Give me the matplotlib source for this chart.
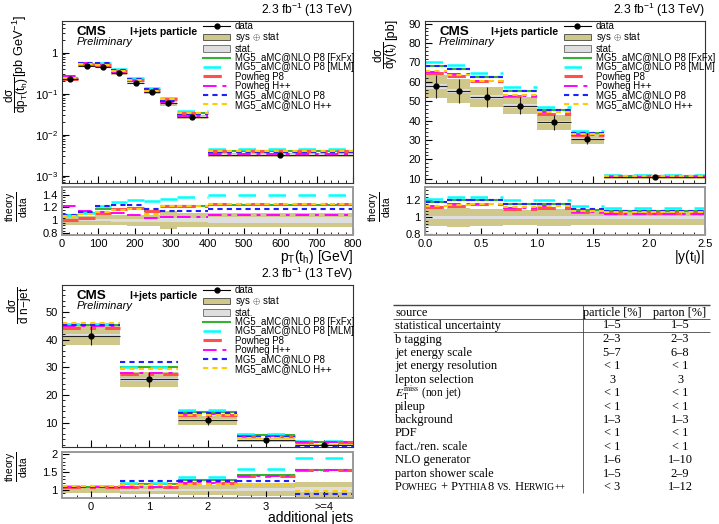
import numpy as np
import matplotlib
matplotlib.use('Agg')
from matplotlib import pyplot as plt
from matplotlib.patches import Patch
from matplotlib.lines import Line2D
from matplotlib.ticker import MultipleLocator, AutoMinorLocator, FixedLocator, FuncFormatter, LogLocator, NullFormatter
from matplotlib.offsetbox import TextArea, HPacker, AnnotationBbox

plt.rcParams['font.family'] = ['Liberation Sans', 'DejaVu Sans']
plt.rcParams['mathtext.fontset'] = 'custom'
plt.rcParams['mathtext.rm'] = 'Liberation Sans'
plt.rcParams['mathtext.it'] = 'Liberation Sans'
plt.rcParams['mathtext.bf'] = 'Liberation Sans:bold'

models = ['MG5_aMC@NLO P8 [FxFx]', 'MG5_aMC@NLO P8 [MLM]', 'Powheg P8',
          'Powheg H++', 'MG5_aMC@NLO P8', 'MG5_aMC@NLO H++']

# --- pT(t_h) ---
pt_edges = [0, 45, 90, 135, 180, 225, 270, 315, 400, 800]
pt_data = [0.224, 0.48, 0.45, 0.31, 0.185, 0.108, 0.059, 0.0275, 0.0032]
pt_tot = [0.08, 0.07, 0.08, 0.08, 0.09, 0.09, 0.14, 0.11, 0.11]
pt_stat = [0.015, 0.015, 0.015, 0.02, 0.02, 0.025, 0.03, 0.03, 0.045]
pt_fxfx = [1.08, 1.12, 1.17, 1.17, 1.19, 1.14, 1.22, 1.22, 1.24]
pt_mlm = [1.08, 1.12, 1.22, 1.28, 1.32, 1.30, 1.33, 1.36, 1.39]
pt_powp8 = [1.00, 1.03, 1.12, 1.17, 1.19, 1.14, 1.22, 1.22, 1.26]
pt_powhw = [1.22, 1.15, 1.13, 1.11, 1.09, 1.04, 1.05, 1.05, 1.08]
pt_mgp8 = [1.08, 1.13, 1.22, 1.24, 1.24, 1.17, 1.14, 1.15, 1.17]
pt_mghw = [1.06, 1.10, 1.13, 1.16, 1.18, 1.10, 1.22, 1.22, 1.26]

# --- |y(t_l)| ---
y_edges = [0, 0.2, 0.4, 0.7, 1.0, 1.3, 1.6, 2.5]
y_data = [57.6, 55.4, 52.0, 47.7, 39.2, 30.6, 10.7]
y_tot = [0.10, 0.11, 0.10, 0.09, 0.10, 0.09, 0.09]
y_stat = [0.02, 0.02, 0.02, 0.02, 0.02, 0.02, 0.02]
y_fxfx = [1.18, 1.20, 1.20, 1.16, 1.16, 1.09, 1.08]
y_mlm = [1.22, 1.24, 1.24, 1.20, 1.20, 1.13, 1.11]
y_powp8 = [1.12, 1.14, 1.16, 1.10, 1.11, 1.06, 1.05]
y_powhw = [1.13, 1.16, 1.16, 1.11, 1.13, 1.06, 1.04]
y_mgp8 = [1.18, 1.20, 1.20, 1.16, 1.16, 1.10, 1.08]
y_mghw = [1.14, 1.15, 1.16, 1.12, 1.13, 1.08, 1.06]

# --- additional jets ---
nj_labels = ['0', '1', '2', '3', '>=4']
nj_data = [41.4, 25.6, 10.8, 3.8, 1.8]
nj_tot = [0.08, 0.11, 0.15, 0.18, 0.22]
nj_stat = [0.01, 0.02, 0.03, 0.04, 0.07]
nj_fxfx = [1.09, 1.17, 1.29, 1.41, 1.57]
nj_mlm = [1.10, 1.18, 1.36, 1.58, 1.90]
nj_powp8 = [1.07, 1.07, 1.19, 1.38, 1.57]
nj_powhw = [1.08, 1.09, 1.20, 1.38, 1.56]
nj_mgp8 = [1.09, 1.24, 1.24, 1.24, 0.87]
nj_mghw = [1.11, 1.15, 1.17, 1.15, 0.98]

# --- systematics table ---
tab_source = ['statistical uncertainty', 'b tagging', 'jet energy scale', 'jet energy resolution',
              'lepton selection', r'$E_\mathrm{T}^\mathrm{miss}$ (non jet)', 'pileup', 'background',
              'PDF', 'fact./ren. scale', 'NLO generator', 'parton shower scale', None]
tab_particle = ['1–5', '2–3', '5–7', '< 1', '3', '< 1', '< 1', '1–3', '< 1', '< 1', '1–6', '1–5', '< 3']
tab_parton = ['1–5', '2–3', '6–8', '< 1', '3', '< 1', '< 1', '1–3', '< 1', '< 1', '1–10', '2–9', '1–12']

SYS_C = '#cfc88a'
STAT_C = '#dedede'
styles = [
    dict(color='#33b233', linestyles='-', lw=1.5),
    dict(color='#00ffff', linestyles=[(0, (7, 5))], lw=1.8),
    dict(color='#ff5050', linestyles=[(0, (6, 3, 2, 3))], lw=2.2),
    dict(color='#ff00ff', linestyles=[(0, (7, 3, 2, 3))], lw=1.4),
    dict(color='#2020ff', linestyles=[(0, (2.5, 2))], lw=1.5),
    dict(color='#ffcc00', linestyles=[(0, (2.5, 2))], lw=1.5),
]

W, H = 719, 524
fig = plt.figure(figsize=(W / 100, H / 100), dpi=100)

# full-figure axes in pixel units, for axis titles and the table
tax = fig.add_axes([0, 0, 1, 1])
tax.set_xlim(0, W)
tax.set_ylim(H, 0)
tax.axis('off')


def px_axes(left, top, right, bottom):
    return fig.add_axes([left / W, 1 - bottom / H, (right - left) / W, (bottom - top) / H])


def style_axes(ax, ratio=False):
    ax.tick_params(which='both', direction='in', top=False, right=False, labelsize=8, pad=3)
    ax.tick_params(which='major', length=5)
    ax.tick_params(which='minor', length=2.5)
    for s in ax.spines.values():
        s.set_color('#999999' if ratio else '#333333')
        s.set_linewidth(1.4 if ratio else 0.8)


def draw(ax, rax, edges, data, tot, stat, ratios, centers=None):
    edges = np.asarray(edges, float)
    lo, hi = edges[:-1], edges[1:]
    w = hi - lo
    x = (lo + hi) / 2 if centers is None else np.asarray(centers, float)
    data = np.asarray(data)
    tot = np.asarray(tot)
    stat = np.asarray(stat)
    ax.bar(lo, 2 * tot * data, w, bottom=data * (1 - tot), align='edge', color=SYS_C, lw=0, zorder=1)
    ax.bar(lo, 2 * stat * data, w, bottom=data * (1 - stat), align='edge', color=STAT_C, lw=0, zorder=1)
    rax.bar(lo, 2 * tot, w, bottom=1 - tot, align='edge', color=SYS_C, lw=0, zorder=1)
    rax.bar(lo, 2 * stat, w, bottom=1 - stat, align='edge', color=STAT_C, lw=0, zorder=1)
    for r, st in zip(ratios, styles):
        r = np.asarray(r)
        ax.hlines(data * r, lo, hi, zorder=2, **st)
        rax.hlines(r, lo, hi, zorder=2, **st)
    ax.errorbar(x, data, xerr=w / 2, yerr=tot * data, fmt='o', ms=3.5, color='k',
                ecolor='#222222', elinewidth=0.8, capsize=0, zorder=3)
    ax.set_xlim(edges[0], edges[-1])
    rax.set_xlim(edges[0], edges[-1])


def decorate(ax, leg_x):
    ax.text(0.05, 0.972, 'CMS', transform=ax.transAxes, fontsize=9.6, fontweight='bold', va='top')
    ax.text(0.05, 0.9, 'Preliminary', transform=ax.transAxes, fontsize=8.0, style='italic', va='top')
    ax.text(0.235, 0.962, 'l+jets particle', transform=ax.transAxes, fontsize=7.5, fontweight='bold', va='top')
    ax.text(1.0, 1.015, r'2.3 fb$^{-1}$ (13 TeV)', transform=ax.transAxes, fontsize=8.7, ha='right', va='bottom')
    handles = [
        Line2D([], [], color='k', marker='o', ms=3.5, lw=0.8),
        Patch(facecolor=SYS_C, edgecolor='#444444', lw=0.6),
        Patch(facecolor=STAT_C, edgecolor='#666666', lw=0.6),
    ]
    for st in styles:
        ls = st['linestyles']
        ls = ls[0] if isinstance(ls, list) else ls
        handles.append(Line2D([], [], color=st['color'], ls=ls, lw=st['lw']))
    labels = ['data', r'sys $\oplus$ stat', 'stat.'] + models
    ax.legend(handles, labels, loc='upper left', bbox_to_anchor=(leg_x, 1.0), frameon=False,
              fontsize=6.9, handlelength=2.8, handletextpad=0.5, labelspacing=-0.07,
              borderpad=0.0, borderaxespad=0.0)
    ax.tick_params(labelbottom=False)


def ylabel_px(x_frac, y_frac, frac, x_unit=None, y_unit=None, unit=None):
    # ROOT-style rotated y title: unit part on top, fraction below it
    if unit is not None:
        tax.text(x_unit, y_unit, unit, rotation=90, fontsize=9.2, ha='center', va='top')
    tax.text(x_frac, y_frac, frac, rotation=90, fontsize=8.5, ha='center', va='top')


def ratio_label_px(xc, yc):
    tax.text(xc, yc, r'$\dfrac{\mathrm{theory}}{\mathrm{data}}$', rotation=90, fontsize=7.4,
             ha='center', va='center')


# panel 1: pT(t_h)
ax1 = px_axes(62, 21, 353, 183)
r1 = px_axes(62, 187, 353, 235)
draw(ax1, r1, pt_edges, pt_data, pt_tot, pt_stat,
     [pt_fxfx, pt_mlm, pt_powp8, pt_powhw, pt_mgp8, pt_mghw])
ax1.set_yscale('log')
ax1.set_ylim(6.6e-4, 5.9)
ax1.yaxis.set_major_locator(LogLocator(base=10, numticks=10))
ax1.yaxis.set_minor_locator(LogLocator(base=10, subs=np.arange(2, 10), numticks=20))
ax1.yaxis.set_minor_formatter(NullFormatter())
ax1.yaxis.set_major_formatter(FuncFormatter(
    lambda v, p: '1' if abs(v - 1) < 1e-9 else r'$10^{%d}$' % round(np.log10(v))))
r1.set_ylim(0.77, 1.52)
r1.yaxis.set_major_locator(MultipleLocator(0.2))
r1.yaxis.set_major_formatter(FuncFormatter(lambda v, p: '%g' % round(v, 1)))
for a in (ax1, r1):
    a.xaxis.set_major_locator(MultipleLocator(100))
    a.xaxis.set_minor_locator(AutoMinorLocator(5))
r1.yaxis.set_minor_locator(AutoMinorLocator(5))
style_axes(ax1)
style_axes(r1, True)
decorate(ax1, 0.485)
r1.set_xlabel(r'p$_{T}$(t$_{h}$) [GeV]', fontsize=10, loc='right', labelpad=-1)
ylabel_px(16.5, 77, r'$\dfrac{d\sigma}{dp_{T}(t_{h})}$', 20, 15, r'[pb GeV$^{-1}$]')
ratio_label_px(17, 207)

# panel 2: |y(t_l)|
ax2 = px_axes(425, 21, 705, 183)
r2 = px_axes(425, 187, 705, 235)
draw(ax2, r2, y_edges, y_data, y_tot, y_stat,
     [y_fxfx, y_mlm, y_powp8, y_powhw, y_mgp8, y_mghw])
ax2.set_ylim(7.8, 91.4)
ax2.yaxis.set_major_locator(MultipleLocator(10))
ax2.yaxis.set_minor_locator(AutoMinorLocator(5))
r2.set_ylim(0.79, 1.36)
r2.yaxis.set_major_locator(MultipleLocator(0.2))
r2.yaxis.set_minor_locator(AutoMinorLocator(5))
r2.yaxis.set_major_formatter(FuncFormatter(lambda v, p: '%g' % round(v, 1)))
for a in (ax2, r2):
    a.xaxis.set_major_locator(MultipleLocator(0.5))
    a.xaxis.set_minor_locator(AutoMinorLocator(5))
style_axes(ax2)
style_axes(r2, True)
decorate(ax2, 0.496)
r2.set_xlabel(r'|y(t$_{l}$)|', fontsize=10, loc='right', labelpad=-1)
ylabel_px(386, 41, r'$\dfrac{d\sigma}{dy(t_{l})}$', 391, 19, '[pb]')
ratio_label_px(380, 207)

# panel 3: additional jets
ax3 = px_axes(62, 285, 353, 447)
r3 = px_axes(62, 452, 353, 498)
nj_pos = np.arange(len(nj_labels))
draw(ax3, r3, np.append(nj_pos - 0.5, nj_pos[-1] + 0.5), nj_data, nj_tot, nj_stat,
     [nj_fxfx, nj_mlm, nj_powp8, nj_powhw, nj_mgp8, nj_mghw], centers=nj_pos)
ax3.set_ylim(1.15, 59.7)
ax3.yaxis.set_major_locator(MultipleLocator(10))
ax3.yaxis.set_minor_locator(AutoMinorLocator(5))
r3.set_ylim(0.77, 2.07)
r3.yaxis.set_major_locator(MultipleLocator(0.5))
r3.yaxis.set_minor_locator(AutoMinorLocator(5))
r3.yaxis.set_major_formatter(FuncFormatter(lambda v, p: '%g' % v))
for a in (ax3, r3):
    a.xaxis.set_major_locator(FixedLocator(nj_pos))
    a.xaxis.set_minor_locator(AutoMinorLocator(4))
r3.set_xticklabels(nj_labels)
style_axes(ax3)
style_axes(r3, True)
decorate(ax3, 0.485)
r3.set_xlabel('additional jets', fontsize=10, loc='right', labelpad=-1)
ylabel_px(19.5, 286, r'$\dfrac{d\sigma}{d\ n\mathrm{-}jet}$')
ratio_label_px(17, 467)

# table
serif = ['Liberation Serif', 'DejaVu Serif']
fs = 8.9
x0, x1, xv, xc1, xc2 = 393, 710, 583, 612, 680
tax.hlines(305, x0, x1, color='#444444', lw=1.0)
tax.hlines([318.5, 331.5], x0, x1, color='#444444', lw=0.6)
tax.vlines(xv, 305, 493, color='#444444', lw=0.6)
tax.text(x0 + 2, 312.6, 'source', family=serif, fontsize=fs, va='center')
tax.text(xc1, 312.6, 'particle [%]', family=serif, fontsize=fs, va='center', ha='center')
tax.text(xc2, 312.6, 'parton [%]', family=serif, fontsize=fs, va='center', ha='center')
row_y = [325.5] + [339.5 + 13.42 * k for k in range(12)]
for yy, src, p1, p2 in zip(row_y, tab_source, tab_particle, tab_parton):
    if src is not None:
        tax.text(x0 + 2, yy, src, family=serif, fontsize=fs if '$' not in src else fs - 0.6,
                 va='center', math_fontfamily='stix')
    tax.text(xc1, yy, p1, family=serif, fontsize=fs, va='center', ha='center')
    tax.text(xc2, yy, p2, family=serif, fontsize=fs, va='center', ha='center')
big = dict(family=serif, fontsize=fs)
small = dict(family=serif, fontsize=fs * 0.78)
pieces = [('P', big), ('OWHEG', small), (' + P', big), ('YTHIA', small),
          ('8 ', big), ('VS.', small), (' H', big), ('ERWIG', small), ('++', small)]
pk = HPacker(children=[TextArea(t, textprops=p) for t, p in pieces], align='baseline', pad=0, sep=0)
tax.add_artist(AnnotationBbox(pk, (x0 + 2, row_y[-1]), xycoords='data', box_alignment=(0, 0.5),
                              frameon=False, pad=0))

fig.savefig('out.png', dpi=100)
